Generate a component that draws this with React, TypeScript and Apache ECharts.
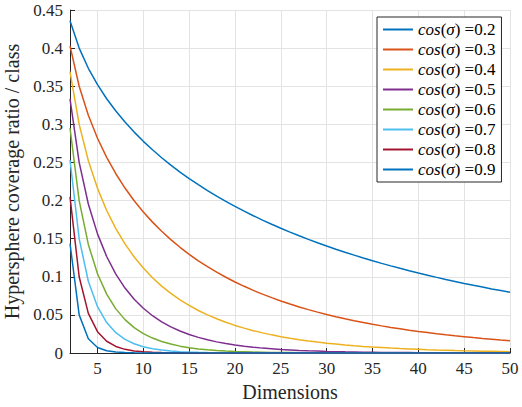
import React, { useEffect, useRef } from "react";
import * as echarts from "echarts";

const dimensions = [
  2, 3, 4, 5, 6, 7, 8, 9, 10, 11, 12, 13, 14, 15, 16, 17, 18, 19, 20, 21, 22, 23, 24, 25, 26,
  27, 28, 29, 30, 31, 32, 33, 34, 35, 36, 37, 38, 39, 40, 41, 42, 43, 44, 45, 46, 47, 48, 49, 50,
];

const cosLabels = ["0.2", "0.3", "0.4", "0.5", "0.6", "0.7", "0.8", "0.9"];

const cos02 = [
  0.4359, 0.4000, 0.3735, 0.3520, 0.3336, 0.3174, 0.3030, 0.2898, 0.2777, 0.2666,
  0.2562, 0.2465, 0.2374, 0.2288, 0.2208, 0.2131, 0.2058, 0.1989, 0.1924, 0.1861,
  0.1801, 0.1744, 0.1689, 0.1636, 0.1586, 0.1538, 0.1491, 0.1447, 0.1404, 0.1362,
  0.1322, 0.1284, 0.1247, 0.1211, 0.1176, 0.1143, 0.1111, 0.1080, 0.1050, 0.1021,
  0.0992, 0.0965, 0.0939, 0.0913, 0.0888, 0.0865, 0.0841, 0.0819, 0.0797,
];
const cos03 = [
  0.4030, 0.3500, 0.3119, 0.2818, 0.2567, 0.2352, 0.2164, 0.1998, 0.1850, 0.1717,
  0.1597, 0.1487, 0.1387, 0.1295, 0.1210, 0.1132, 0.1060, 0.0994, 0.0932, 0.0875,
  0.0821, 0.0772, 0.0726, 0.0682, 0.0642, 0.0604, 0.0569, 0.0536, 0.0505, 0.0476,
  0.0449, 0.0424, 0.0400, 0.0377, 0.0356, 0.0336, 0.0318, 0.0300, 0.0283, 0.0268,
  0.0253, 0.0239, 0.0226, 0.0214, 0.0202, 0.0191, 0.0181, 0.0171, 0.0162,
];
const cos04 = [
  0.3690, 0.3000, 0.2523, 0.2160, 0.1870, 0.1631, 0.1431, 0.1260, 0.1114, 0.0988,
  0.0878, 0.0782, 0.0698, 0.0624, 0.0558, 0.0500, 0.0449, 0.0403, 0.0362, 0.0326,
  0.0293, 0.0264, 0.0238, 0.0214, 0.0194, 0.0175, 0.0158, 0.0143, 0.0129, 0.0117,
  0.0105, 0.0095, 0.0086, 0.0078, 0.0071, 0.0064, 0.0058, 0.0053, 0.0048, 0.0043,
  0.0039, 0.0036, 0.0032, 0.0029, 0.0027, 0.0024, 0.0022, 0.0020, 0.0018,
];
const cos05 = [
  0.3333, 0.2500, 0.1955, 0.1563, 0.1266, 0.1035, 0.0852, 0.0706, 0.0587, 0.0489,
  0.0409, 0.0343, 0.0288, 0.0243, 0.0205, 0.0173, 0.0146, 0.0124, 0.0105, 0.0089,
  0.0076, 0.0064, 0.0055, 0.0046, 0.0040, 0.0034, 0.0029, 0.0025, 0.0021, 0.0018,
  0.0015, 0.0013, 0.0011, 0.0010, 0.0008, 0.0007, 0.0006, 0.0005, 0.0004, 0.0004,
  0.0003, 0.0003, 0.0002, 0.0002, 0.0002, 0.0001, 0.0001, 0.0001, 0.0001,
];
const cos06 = [
  0.2952, 0.2000, 0.1424, 0.1040, 0.0772, 0.0579, 0.0438, 0.0333, 0.0255, 0.0196,
  0.0151, 0.0117, 0.0090, 0.0070, 0.0054, 0.0042, 0.0033, 0.0026, 0.0020, 0.0016,
  0.0012, 0.0010, 0.0008, 0.0006, 0.0005, 0.0004, 0.0003, 0.0002, 0.0002, 0.0001,
  0.0001, 0.0001, 0.0001, 0.0001, 0, 0, 0, 0, 0, 0,
  0, 0, 0, 0, 0, 0, 0, 0, 0,
];
const cos07 = [
  0.2532, 0.1500, 0.0941, 0.0608, 0.0400, 0.0266, 0.0179, 0.0121, 0.0082, 0.0056,
  0.0039, 0.0027, 0.0018, 0.0013, 0.0009, 0.0006, 0.0004, 0.0003, 0.0002, 0.0001,
  0.0001, 0.0001, 0, 0, 0, 0, 0, 0, 0, 0,
  0, 0, 0, 0, 0, 0, 0, 0, 0, 0,
  0, 0, 0, 0, 0, 0, 0, 0, 0,
];
const cos08 = [
  0.2048, 0.1000, 0.0520, 0.0280, 0.0154, 0.0086, 0.0048, 0.0027, 0.0016, 0.0009,
  0.0005, 0.0003, 0.0002, 0.0001, 0.0001, 0, 0, 0, 0, 0,
  0, 0, 0, 0, 0, 0, 0, 0, 0, 0,
  0, 0, 0, 0, 0, 0, 0, 0, 0, 0,
  0, 0, 0, 0, 0, 0, 0, 0, 0,
];
const cos09 = [
  0.1436, 0.0500, 0.0187, 0.0073, 0.0029, 0.0012, 0.0005, 0.0002, 0.0001, 0,
  0, 0, 0, 0, 0, 0, 0, 0, 0, 0,
  0, 0, 0, 0, 0, 0, 0, 0, 0, 0,
  0, 0, 0, 0, 0, 0, 0, 0, 0, 0,
  0, 0, 0, 0, 0, 0, 0, 0, 0,
];

const xTicks = [5, 10, 15, 20, 25, 30, 35, 40, 45, 50];

const seriesValues = [cos02, cos03, cos04, cos05, cos06, cos07, cos08, cos09];
const colors = [
  "#0072BD", "#D95319", "#EDB120", "#7E2F8E", "#77AC30", "#4DBEEE", "#A2142F", "#0072BD",
];

const SERIF = "Liberation Serif";
const AXIS_COLOR = "#262626";
const GRID_COLOR = "#e3e3e3";

export default function App() {
  const ref = useRef<HTMLDivElement>(null);

  useEffect(() => {
    if (!ref.current) return;
    const chart = echarts.init(ref.current, null, { renderer: "svg" });

    const series = seriesValues.map((vals, i) => ({
      name: "cos(σ) =" + cosLabels[i],
      type: "line",
      data: dimensions.map((d, j) => [d, vals[j]]),
      symbol: "none",
      showSymbol: false,
      lineStyle: { color: colors[i], width: 1.5 },
      itemStyle: { color: colors[i] },
      z: 2 + i,
    }));

    chart.setOption({
      animation: false,
      backgroundColor: "#ffffff",
      textStyle: { fontFamily: SERIF },
      grid: {
        left: 70,
        right: 12,
        top: 10,
        bottom: 54,
        containLabel: false,
        outerBoundsMode: "none",
      },
      xAxis: {
        type: "value",
        min: 2,
        max: 50,
        name: "Dimensions",
        nameLocation: "middle",
        nameGap: 29,
        nameTextStyle: { fontFamily: SERIF, fontSize: 20, color: AXIS_COLOR },
        axisLine: { show: true, lineStyle: { color: AXIS_COLOR, width: 1 } },
        axisTick: {
          show: true,
          inside: true,
          length: 5,
          customValues: xTicks,
          lineStyle: { color: AXIS_COLOR },
        },
        axisLabel: {
          customValues: xTicks,
          fontFamily: SERIF,
          fontSize: 17,
          color: AXIS_COLOR,
          margin: 7,
        },
        splitLine: { show: true, lineStyle: { color: GRID_COLOR, width: 1 } },
      },
      yAxis: {
        type: "value",
        min: 0,
        max: 0.45,
        interval: 0.05,
        name: "Hypersphere coverage ratio / class",
        nameLocation: "middle",
        nameGap: 38,
        nameTextStyle: { fontFamily: SERIF, fontSize: 20, color: AXIS_COLOR },
        axisLine: { show: true, lineStyle: { color: AXIS_COLOR, width: 1 } },
        axisTick: { show: true, inside: true, length: 5, lineStyle: { color: AXIS_COLOR } },
        axisLabel: {
          fontFamily: SERIF,
          fontSize: 17,
          color: AXIS_COLOR,
          margin: 7,
        },
        splitLine: { show: true, lineStyle: { color: GRID_COLOR, width: 1 } },
      },
      legend: {
        orient: "vertical",
        left: 377,
        top: 17,
        padding: [4, 6, 4, 5],
        itemWidth: 30,
        itemHeight: 14,
        itemGap: 3,
        backgroundColor: "#ffffff",
        borderColor: AXIS_COLOR,
        borderWidth: 1,
        borderRadius: 0,
        itemStyle: { opacity: 0 },
        formatter: (name: string) => {
          const v = name.split("=")[1];
          return "{i|cos}{n|(}{i|σ}{n|)} {n|=" + v + "}";
        },
        textStyle: {
          fontFamily: SERIF,
          fontSize: 17,
          color: "#000000",
          rich: {
            i: { fontFamily: SERIF, fontSize: 17, fontStyle: "italic", color: "#000000" },
            n: { fontFamily: SERIF, fontSize: 17, color: "#000000" },
          },
        },
        data: cosLabels.map((c) => "cos(σ) =" + c),
      },
      series,
    });

    return () => {
      chart.dispose();
    };
  }, []);

  return (
    <div
      ref={ref}
      style={{ position: "absolute", left: 0, top: 0, width: 522, height: 407 }}
    />
  );
}
